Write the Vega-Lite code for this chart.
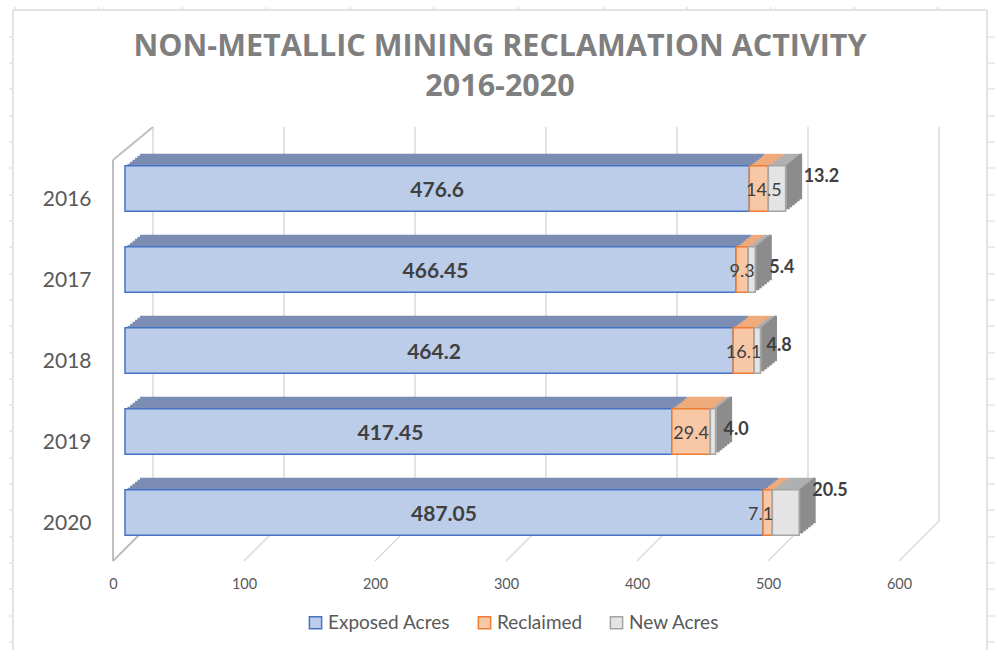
{
"$schema":"https://vega.github.io/schema/vega-lite/v6.json",
"width":786,"height":434,
"autosize":"none",
"padding":{"left":125,"top":127,"right":84,"bottom":89},
"background":"white",
"title":{"text":["NON-METALLIC MINING RECLAMATION ACTIVITY","2016-2020"],"font":"Open Sans","fontSize":30.5,"fontWeight":"bold","color":"#7f7f7f","lineHeight":40,"anchor":"middle","dx":-18,"offset":-96},
"config":{"view":{"stroke":null}},
"layer":[
{"layer":[
{"data":{"values":[{"tick":0},{"tick":100},{"tick":200},{"tick":300},{"tick":400},{"tick":500},{"tick":600}]},
 "layer":[
 {"mark":{"type":"rule","color":"#d9d9d9","strokeWidth":1.5,"xOffset":28},
  "encoding":{"x":{"field":"tick","type":"quantitative","scale":{"domain":[0,600],"range":[0,786],"nice":false},"axis":{"title":null,"grid":false,"domain":false,"ticks":false,"labelFontSize":14.5,"labelColor":"#595959","labelFont":"Lato","labelPadding":16,"labelOffset":-12,"labelFlush":false,"values":[0,100,200,300,400,500,600]}},
  "y":{"datum":40,"type":"quantitative","scale":{"domain":[0,434],"range":[434,0],"nice":false},"axis":null},"y2":{"datum":434}}},
 {"mark":{"type":"rule","color":"#d9d9d9","strokeWidth":1.5,"xOffset":-12,"x2Offset":28},
  "encoding":{"x":{"field":"tick","type":"quantitative"},"x2":{"field":"tick"},"y":{"datum":0,"type":"quantitative"},"y2":{"datum":40}}},
 {"transform":[{"filter":"datum.tick==0"}],"mark":{"type":"rule","color":"#bfbfbf","strokeWidth":2,"xOffset":-12},
  "encoding":{"x":{"field":"tick","type":"quantitative"},"y":{"datum":0,"type":"quantitative"},"y2":{"datum":401}}},
 {"transform":[{"filter":"datum.tick==0"}],"mark":{"type":"rule","color":"#bfbfbf","strokeWidth":2,"xOffset":-12,"x2Offset":28},
  "encoding":{"x":{"field":"tick","type":"quantitative"},"x2":{"field":"tick"},"y":{"datum":401,"type":"quantitative"},"y2":{"datum":434}}},
 {"transform":[{"filter":"datum.tick==0"}],"mark":{"type":"rule","color":"#bfbfbf","strokeWidth":2,"xOffset":-12,"x2Offset":28},
  "encoding":{"x":{"field":"tick","type":"quantitative"},"x2":{"field":"tick"},"y":{"datum":0,"type":"quantitative"},"y2":{"datum":40}}}
 ]},
{"data":{"values":[{"row":524},{"row":498},{"row":472},{"row":445},{"row":419},{"row":393},{"row":366},{"row":340},{"row":314},{"row":287},{"row":261},{"row":235},{"row":208},{"row":182},{"row":156},{"row":130},{"row":103},{"row":77},{"row":51},{"row":24},{"row":-2},{"row":-28},{"row":-55},{"row":-81}]},
 "layer":[
 {"mark":{"type":"rule","color":"#e3e3e3","strokeWidth":1.5},"encoding":{"x":{"datum":-88.5,"type":"quantitative"},"x2":{"datum":-85.5},"y":{"field":"row","type":"quantitative","title":null}}},
 {"mark":{"type":"rule","color":"#e3e3e3","strokeWidth":1.5},"encoding":{"x":{"datum":658,"type":"quantitative"},"x2":{"datum":664},"y":{"field":"row","type":"quantitative","title":null}}}
 ]},
{"data":{"values":[{"col":-84},{"col":-20},{"col":44},{"col":108},{"col":172},{"col":236},{"col":300},{"col":365},{"col":429},{"col":493},{"col":557},{"col":620}]},
 "mark":{"type":"rule","color":"#e3e3e3","strokeWidth":1.5},"encoding":{"x":{"field":"col","type":"quantitative"},"y":{"datum":551,"type":"quantitative"},"y2":{"datum":554}}},
{"data":{"values":[{"edge":"sheet"}]},
 "layer":[
 {"mark":{"type":"rule","color":"#e3e3e3","strokeWidth":2},"encoding":{"x":{"datum":-85.5,"type":"quantitative"},"y":{"datum":-89,"type":"quantitative"},"y2":{"datum":551}}},
 {"mark":{"type":"rule","color":"#e3e3e3","strokeWidth":2},"encoding":{"x":{"datum":658,"type":"quantitative"},"y":{"datum":-89,"type":"quantitative"},"y2":{"datum":551}}},
 {"mark":{"type":"rule","color":"#e3e3e3","strokeWidth":2},"encoding":{"x":{"datum":-85.5,"type":"quantitative"},"x2":{"datum":658},"y":{"datum":551,"type":"quantitative"}}}
 ]}
]},
{"data":{"values":[
{"year":"2016","series":"Exposed Acres","ord":1,"value":476.6,"label":"476.6"},
{"year":"2016","series":"Reclaimed","ord":2,"value":14.5,"label":"14.5"},
{"year":"2016","series":"New Acres","ord":3,"value":13.2,"label":"13.2"},
{"year":"2017","series":"Exposed Acres","ord":1,"value":466.45,"label":"466.45"},
{"year":"2017","series":"Reclaimed","ord":2,"value":9.3,"label":"9.3"},
{"year":"2017","series":"New Acres","ord":3,"value":5.4,"label":"5.4"},
{"year":"2018","series":"Exposed Acres","ord":1,"value":464.2,"label":"464.2"},
{"year":"2018","series":"Reclaimed","ord":2,"value":16.1,"label":"16.1"},
{"year":"2018","series":"New Acres","ord":3,"value":4.8,"label":"4.8"},
{"year":"2019","series":"Exposed Acres","ord":1,"value":417.45,"label":"417.45"},
{"year":"2019","series":"Reclaimed","ord":2,"value":29.4,"label":"29.4"},
{"year":"2019","series":"New Acres","ord":3,"value":4.0,"label":"4.0"},
{"year":"2020","series":"Exposed Acres","ord":1,"value":487.05,"label":"487.05"},
{"year":"2020","series":"Reclaimed","ord":2,"value":7.1,"label":"7.1"},
{"year":"2020","series":"New Acres","ord":3,"value":20.5,"label":"20.5"}
]},
 "transform":[{"stack":"value","groupby":["year"],"sort":[{"field":"ord","order":"ascending"}],"as":["x0","x1"]},{"calculate":"(datum.x0+datum.x1)/2","as":"mid"}],
 "encoding":{"y":{"field":"year","type":"nominal","scale":{"domain":["2016","2017","2018","2019","2020"],"range":[21,426],"paddingInner":0.44,"paddingOuter":0.22},"axis":{"title":null,"orient":"left","domain":false,"ticks":false,"labelFontSize":21,"labelFont":"Lato","labelColor":"#595959","labelPadding":34,"labelOffset":11}}},
 "layer":[
 {"mark":{"type":"bar","xOffset":15,"x2Offset":15,"yOffset":-12,"y2Offset":-12},"encoding":{"x":{"field":"x0","type":"quantitative"},"x2":{"field":"x1"},"color":{"field":"series","legend":null,"scale":{"domain":["New Acres","Reclaimed","Exposed Acres"],"range":["#b0b0b0","#eeab7c","#7b8db3"]}}}},
 {"mark":{"type":"bar","xOffset":12.5,"x2Offset":12.5,"yOffset":-10,"y2Offset":-10},"encoding":{"x":{"field":"x0","type":"quantitative"},"x2":{"field":"x1"},"color":{"field":"series","legend":null}}},
 {"mark":{"type":"bar","xOffset":10,"x2Offset":10,"yOffset":-8,"y2Offset":-8},"encoding":{"x":{"field":"x0","type":"quantitative"},"x2":{"field":"x1"},"color":{"field":"series","legend":null}}},
 {"mark":{"type":"bar","xOffset":7.5,"x2Offset":7.5,"yOffset":-6,"y2Offset":-6},"encoding":{"x":{"field":"x0","type":"quantitative"},"x2":{"field":"x1"},"color":{"field":"series","legend":null}}},
 {"mark":{"type":"bar","xOffset":5,"x2Offset":5,"yOffset":-4,"y2Offset":-4},"encoding":{"x":{"field":"x0","type":"quantitative"},"x2":{"field":"x1"},"color":{"field":"series","legend":null}}},
 {"mark":{"type":"bar","xOffset":2.5,"x2Offset":2.5,"yOffset":-2,"y2Offset":-2},"encoding":{"x":{"field":"x0","type":"quantitative"},"x2":{"field":"x1"},"color":{"field":"series","legend":null}}},
 {"transform":[{"filter":"datum.ord==3"}],"layer":[
  {"mark":{"type":"bar","stroke":"#8c8c8c","strokeWidth":3,"fill":"#8c8c8c","xOffset":15,"x2Offset":15,"yOffset":-12,"y2Offset":-12},"encoding":{"x":{"field":"x1","type":"quantitative"},"x2":{"field":"x1"}}},
  {"mark":{"type":"bar","stroke":"#8c8c8c","strokeWidth":3,"fill":"#8c8c8c","xOffset":12.5,"x2Offset":12.5,"yOffset":-10,"y2Offset":-10},"encoding":{"x":{"field":"x1","type":"quantitative"},"x2":{"field":"x1"}}},
  {"mark":{"type":"bar","stroke":"#8c8c8c","strokeWidth":3,"fill":"#8c8c8c","xOffset":10,"x2Offset":10,"yOffset":-8,"y2Offset":-8},"encoding":{"x":{"field":"x1","type":"quantitative"},"x2":{"field":"x1"}}},
  {"mark":{"type":"bar","stroke":"#8c8c8c","strokeWidth":3,"fill":"#8c8c8c","xOffset":7.5,"x2Offset":7.5,"yOffset":-6,"y2Offset":-6},"encoding":{"x":{"field":"x1","type":"quantitative"},"x2":{"field":"x1"}}},
  {"mark":{"type":"bar","stroke":"#8c8c8c","strokeWidth":3,"fill":"#8c8c8c","xOffset":5,"x2Offset":5,"yOffset":-4,"y2Offset":-4},"encoding":{"x":{"field":"x1","type":"quantitative"},"x2":{"field":"x1"}}},
  {"mark":{"type":"bar","stroke":"#8c8c8c","strokeWidth":3,"fill":"#8c8c8c","xOffset":2.5,"x2Offset":2.5,"yOffset":-2,"y2Offset":-2},"encoding":{"x":{"field":"x1","type":"quantitative"},"x2":{"field":"x1"}}}
 ]},
 {"mark":{"type":"bar","strokeWidth":1.5},"encoding":{"x":{"field":"x0","type":"quantitative"},"x2":{"field":"x1"},
   "fill":{"field":"series","scale":{"domain":["Exposed Acres","Reclaimed","New Acres"],"range":["#bccde9","#f8c7a5","#e4e4e4"]},"legend":{"title":null,"orient":"none","direction":"horizontal","columns":3,"legendX":181,"legendY":486,"symbolType":"square","symbolSize":150,"symbolStrokeWidth":1.5,"labelFont":"Lato","labelFontSize":19,"labelColor":"#595959","columnPadding":24,"labelOffset":3}},
   "stroke":{"field":"series","scale":{"domain":["Exposed Acres","Reclaimed","New Acres"],"range":["#4472c4","#ed7d31","#a5a5a5"]},"legend":{"title":null,"orient":"none","direction":"horizontal","columns":3,"legendX":181,"legendY":486,"symbolType":"square","symbolSize":150,"symbolStrokeWidth":1.5,"labelFont":"Lato","labelFontSize":19,"labelColor":"#595959","columnPadding":24,"labelOffset":3}}}},
 {"transform":[{"filter":"datum.ord==1 && (datum.year=='2016' || datum.year=='2020')"}],"mark":{"type":"text","font":"Lato","fontSize":21,"fontWeight":"bold","color":"#404040","dy":2},"encoding":{"x":{"field":"mid","type":"quantitative"},"text":{"field":"label"}}},
 {"transform":[{"filter":"datum.ord==1 && (datum.year=='2017' || datum.year=='2018')"}],"mark":{"type":"text","font":"Lato","fontSize":21,"fontWeight":"bold","color":"#404040","dy":2,"dx":5},"encoding":{"x":{"field":"mid","type":"quantitative"},"text":{"field":"label"}}},
 {"transform":[{"filter":"datum.ord==1 && datum.year=='2019'"}],"mark":{"type":"text","font":"Lato","fontSize":21,"fontWeight":"bold","color":"#404040","dy":2,"dx":-8},"encoding":{"x":{"field":"mid","type":"quantitative"},"text":{"field":"label"}}},
 {"transform":[{"filter":"datum.ord==2 && datum.year!='2016' && datum.year!='2020'"}],"mark":{"type":"text","font":"Lato","fontSize":18,"color":"#404040","dy":2},"encoding":{"x":{"field":"mid","type":"quantitative"},"text":{"field":"label"}}},
 {"transform":[{"filter":"datum.ord==2 && datum.year=='2016'"}],"mark":{"type":"text","font":"Lato","fontSize":18,"color":"#404040","dy":2,"dx":5},"encoding":{"x":{"field":"mid","type":"quantitative"},"text":{"field":"label"}}},
 {"transform":[{"filter":"datum.ord==2 && datum.year=='2020'"}],"mark":{"type":"text","font":"Lato","fontSize":18,"color":"#404040","dy":2,"dx":-7},"encoding":{"x":{"field":"mid","type":"quantitative"},"text":{"field":"label"}}},
 {"transform":[{"filter":"datum.ord==3 && datum.year=='2016'"}],"mark":{"type":"text","font":"Lato","fontSize":18,"fontWeight":"bold","color":"#404040","align":"left","dx":18,"dy":-12},"encoding":{"x":{"field":"x1","type":"quantitative"},"text":{"field":"label"}}},
 {"transform":[{"filter":"datum.ord==3 && datum.year=='2017'"}],"mark":{"type":"text","font":"Lato","fontSize":18,"fontWeight":"bold","color":"#404040","align":"left","dx":14,"dy":-2},"encoding":{"x":{"field":"x1","type":"quantitative"},"text":{"field":"label"}}},
 {"transform":[{"filter":"datum.ord==3 && datum.year=='2018'"}],"mark":{"type":"text","font":"Lato","fontSize":18,"fontWeight":"bold","color":"#404040","align":"left","dx":6,"dy":-5},"encoding":{"x":{"field":"x1","type":"quantitative"},"text":{"field":"label"}}},
 {"transform":[{"filter":"datum.ord==3 && datum.year=='2019'"}],"mark":{"type":"text","font":"Lato","fontSize":18,"fontWeight":"bold","color":"#404040","align":"left","dx":8,"dy":-2},"encoding":{"x":{"field":"x1","type":"quantitative"},"text":{"field":"label"}}},
 {"transform":[{"filter":"datum.ord==3 && datum.year=='2020'"}],"mark":{"type":"text","font":"Lato","fontSize":18,"fontWeight":"bold","color":"#404040","align":"left","dx":13,"dy":-22},"encoding":{"x":{"field":"x1","type":"quantitative"},"text":{"field":"label"}}}
 ]}
],
"resolve":{"scale":{"y":"independent"}}
}
